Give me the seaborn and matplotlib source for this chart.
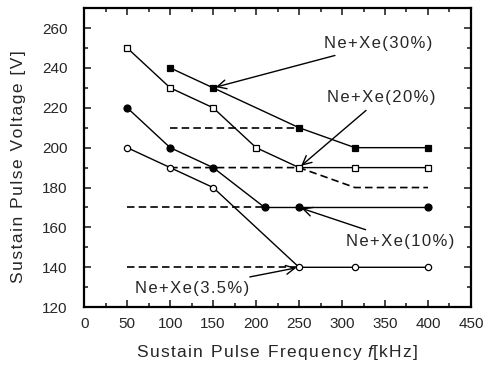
import matplotlib
matplotlib.use("Agg")
import matplotlib.pyplot as plt
import numpy as np
import pandas as pd
import seaborn as sns

# measured points
x30 = [100, 150, 250, 315, 400]
y30 = [240, 230, 210, 200, 200]
x20 = [50, 100, 150, 200, 250, 315, 400]
y20 = [250, 230, 220, 200, 190, 190, 190]
x10 = [50, 100, 150, 210, 250, 400]
y10 = [220, 200, 190, 170, 170, 170]
x35 = [50, 100, 150, 250, 315, 400]
y35 = [200, 190, 180, 140, 140, 140]

# dashed reference lines
dash_x = [[100, 250], [100, 250, 315, 400], [50, 210], [50, 250]]
dash_y = [[210, 210], [190, 190, 180, 180], [170, 170], [140, 140]]

labels = ["Ne+Xe(30%)", "Ne+Xe(20%)", "Ne+Xe(10%)", "Ne+Xe(3.5%)"]
text_xy = [(279, 252), (282, 225), (305, 153), (59, 129.5)]
arrow_xy = [(150, 230), (250, 190), (250, 170), (250, 140)]


def spaced(s):
    # old-style wide letter spacing
    return "\u200a".join(s)


sns.set_style("ticks")
plt.rcParams["font.family"] = ["Liberation Sans", "DejaVu Sans"]
plt.rcParams["mathtext.fontset"] = "custom"
plt.rcParams["mathtext.it"] = "Liberation Sans:italic"

fig, ax = plt.subplots(figsize=(4.84, 3.67), dpi=100)
fig.subplots_adjust(left=0.174, right=0.973, bottom=0.163, top=0.978)

for dx, dy in zip(dash_x, dash_y):
    sns.lineplot(x=dx, y=dy, ax=ax, color="black", lw=1.2, linestyle=(0, (4.5, 2.5)))

series = [
    (x30, y30, "s", "black", 5),
    (x20, y20, "s", "white", 5),
    (x10, y10, "o", "black", 5),
    (x35, y35, "o", "white", 4.5),
]
for xs, ys, m, fc, ms in series:
    sns.lineplot(x=xs, y=ys, ax=ax, color="black", lw=1, marker=m,
                 markersize=ms, markerfacecolor=fc, markeredgecolor="black",
                 markeredgewidth=0.9)

for lab, txy, axy in zip(labels, text_xy, arrow_xy):
    ax.annotate(spaced(lab), xy=axy, xytext=txy, fontsize=12, va="center",
                ha="left",
                arrowprops=dict(arrowstyle="->", color="black", lw=1,
                                mutation_scale=16, shrinkA=2, shrinkB=2))

ax.set_xlim(0, 450)
ax.set_ylim(120, 270)
ax.set_xticks(np.arange(0, 451, 50))
ax.set_yticks(np.arange(120, 261, 20))
ax.set_xticks(np.arange(0, 451, 25), minor=True)
ax.set_yticks(np.arange(120, 271, 10), minor=True)
ax.tick_params(which="both", direction="in", top=True, right=True,
               labelsize=11, width=1.2)
ax.tick_params(which="major", length=5)
ax.tick_params(which="minor", length=3)
ax.tick_params(axis="x", which="major", pad=7)
ax.tick_params(axis="y", which="major", pad=12)
for s in ax.spines.values():
    s.set_linewidth(1.6)
    s.set_color("black")

ax.set_xlabel(spaced("Sustain Pulse Frequency ") + "$f$" + spaced("[kHz]"),
              fontsize=12.5, labelpad=9)
ax.set_ylabel(spaced("Sustain Pulse Voltage [V]"), fontsize=12.5)
ax.yaxis.set_label_coords(-0.15, 0.47)

fig.savefig("out.png", dpi=100)
